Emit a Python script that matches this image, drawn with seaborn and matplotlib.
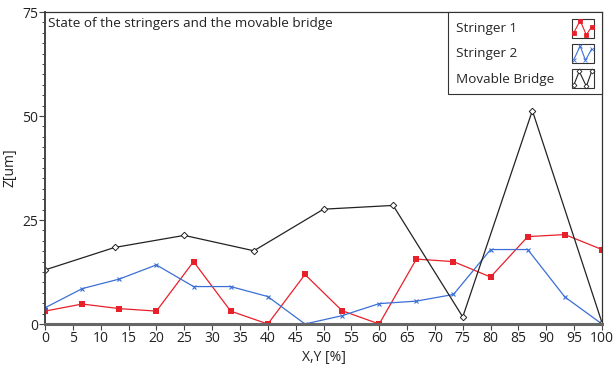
import matplotlib
matplotlib.use("Agg")
import matplotlib.pyplot as plt
import seaborn as sns
import pandas as pd
import numpy as np
from matplotlib.legend_handler import HandlerBase
from matplotlib.patches import Rectangle
from matplotlib.lines import Line2D
from matplotlib.ticker import MultipleLocator

# ---- data ----
x_stringer = [0, 6.67, 13.33, 20, 26.67, 33.33, 40, 46.67, 53.33, 60,
              66.67, 73.33, 80, 86.67, 93.33, 100]
stringer1 = [3.1, 4.8, 3.7, 3.1, 15.0, 3.1, 0.0, 11.9, 3.2, 0.0,
             15.6, 15.0, 11.3, 21.0, 21.5, 17.9]
stringer2 = [3.9, 8.5, 10.8, 14.2, 9.0, 9.0, 6.6, 0.0, 2.0, 4.9,
             5.5, 7.1, 17.9, 17.9, 6.5, 0.0]
x_bridge = [0, 12.5, 25, 37.5, 50, 62.5, 75, 87.5, 100]
bridge = [13.0, 18.4, 21.3, 17.6, 27.6, 28.5, 1.7, 51.3, 0.3]
x_ticks = list(range(0, 101, 5))
y_ticks = [0, 25, 50, 75]
series_names = ["Stringer 1", "Stringer 2", "Movable Bridge"]

RED = "#e8202a"
BLUE = "#3b6fd6"
BLACK = "#222222"

sns.set_theme(style="white")
plt.rcParams['font.family'] = ['Open Sans', 'DejaVu Sans']

fig = plt.figure(figsize=(6.14, 3.69), dpi=100)
ax = fig.add_axes([45/614, 1-324/369, (602-45)/614, (324-12)/369])

df1 = pd.DataFrame({"x": x_stringer, "z": stringer1})
df2 = pd.DataFrame({"x": x_stringer, "z": stringer2})
df3 = pd.DataFrame({"x": x_bridge, "z": bridge})

sns.lineplot(data=df1, x="x", y="z", ax=ax, color=RED, lw=0.9,
             marker="s", markersize=3.8, markeredgewidth=0, markerfacecolor=RED)
sns.lineplot(data=df2, x="x", y="z", ax=ax, color=BLUE, lw=0.9,
             marker="x", markersize=3.5, markeredgewidth=0.8, markeredgecolor=BLUE)
sns.lineplot(data=df3, x="x", y="z", ax=ax, color=BLACK, lw=0.9,
             marker="D", markersize=3.3, markerfacecolor="white",
             markeredgecolor=BLACK, markeredgewidth=0.7)

ax.set_xlim(0, 100)
ax.set_ylim(0, 75)
ax.set_xticks(x_ticks)
ax.set_yticks(y_ticks)
ax.yaxis.set_minor_locator(MultipleLocator(2.5))
ax.tick_params(axis="both", which="major", direction="out", length=4,
               width=0.8, color="#444444", labelsize=10, pad=1,
               labelcolor="#222222", left=True, bottom=True)
ax.tick_params(axis="y", which="minor", direction="out", length=2,
               width=0.7, color="#444444", left=True)
for s in ["top", "right"]:
    ax.spines[s].set_color("#333333")
    ax.spines[s].set_linewidth(0.9)
ax.spines["left"].set_color("#444444")
ax.spines["left"].set_linewidth(1.4)
ax.spines["bottom"].set_color("#666666")
ax.spines["bottom"].set_linewidth(2.2)

ax.set_xlabel("X,Y [%]", fontsize=10, color="#222222", labelpad=3)
ax.set_ylabel("Z[um]", fontsize=10, color="#222222", labelpad=3)
ax.text(0.006, 0.985, "State of the stringers and the movable bridge",
        transform=ax.transAxes, ha="left", va="top", fontsize=9.7,
        color="#222222")


class BoxHandler(HandlerBase):
    def __init__(self, color, marker, pts, mfc=None):
        super().__init__()
        self.color = color
        self.marker = marker
        self.pts = pts
        self.mfc = mfc if mfc is not None else color

    def create_artists(self, legend, orig_handle, xdescent, ydescent,
                       width, height, fontsize, trans):
        x0, y0 = -xdescent, -ydescent - 2
        h = height + 3
        rect = Rectangle((x0, y0), width, h, facecolor="white",
                         edgecolor="#333333", lw=0.8, transform=trans)
        xs = [x0 + 0.1 * width + p[0] * 0.8 * width for p in self.pts]
        ys = [y0 + 0.1 * h + p[1] * 0.8 * h for p in self.pts]
        line = Line2D(xs, ys, color=self.color, lw=0.8, marker=self.marker,
                      markersize=2.5, markerfacecolor=self.mfc,
                      markeredgecolor=self.color, markeredgewidth=0.6,
                      transform=trans)
        return [rect, line]


h1 = Line2D([], [], color=RED)
h2 = Line2D([], [], color=BLUE)
h3 = Line2D([], [], color=BLACK)
leg = ax.legend([h1, h2, h3], series_names,
                handler_map={
                    h1: BoxHandler(RED, "s", [(0, 0.2), (0.35, 1), (0.7, 0.05), (1, 0.6)]),
                    h2: BoxHandler(BLUE, "x", [(0, 0.1), (0.35, 1), (0.65, 0.05), (1, 0.8)]),
                    h3: BoxHandler(BLACK, "D", [(0, 0.1), (0.3, 1), (0.7, 0.0), (1, 1)], mfc="white"),
                },
                loc="upper right", bbox_to_anchor=(1.0, 1.0),
                markerfirst=False, fontsize=9.7, frameon=True,
                fancybox=False, edgecolor="#333333", framealpha=1,
                handlelength=1.65, handleheight=1.3, labelspacing=0.78,
                borderpad=0.6, handletextpad=1.3, borderaxespad=0.0)
leg.get_frame().set_linewidth(0.8)

# left-align legend labels while keeping the icons in one column on the right
fig.canvas.draw()
renderer = fig.canvas.get_renderer()
rows = []
for col in leg._legend_handle_box.get_children():
    rows.extend(col.get_children())
maxw = max(r.get_bbox(renderer).width for r in rows)
for r in rows:
    r.mode = "expand"
    r.width = maxw

fig.savefig("out.png", dpi=100)
